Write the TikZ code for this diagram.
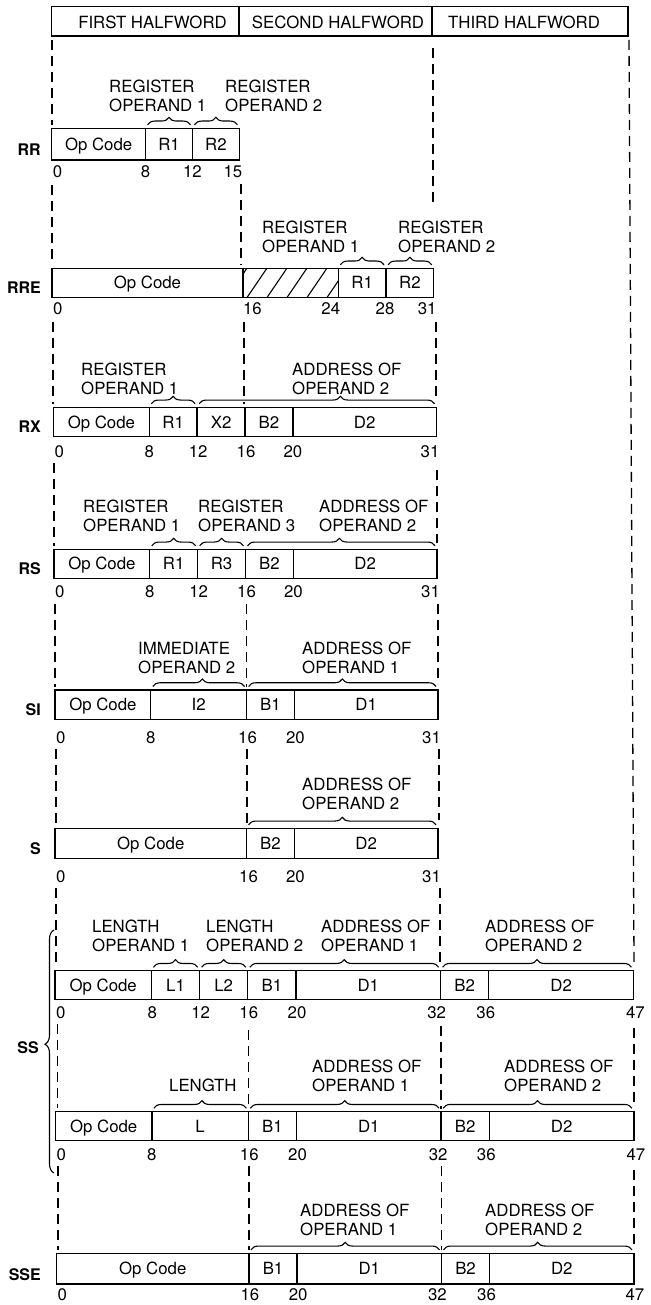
\documentclass[tikz,border=0pt]{standalone}
\usepackage{fontspec}
\setmainfont{TeX Gyre Heros}
\usetikzlibrary{decorations.pathreplacing}
\begin{document}
\begin{tikzpicture}[x=1pt,y=-1pt,
  declare function={bx(\b)=\rX+\rS*\b;},
  box/.style={line width=1.3pt},
  guide/.style={line width=1.3pt, dash pattern=on 10pt off 6pt},
  fld/.style={font=\fontsize{16.8}{19}\selectfont, inner sep=0pt, anchor=base},
  ann/.style={font=\fontsize{16.8}{19}\selectfont, inner sep=0pt, anchor=base west},
  bit/.style={font=\fontsize{16.8}{19}\selectfont, inner sep=0pt},
  rowlbl/.style={font=\bfseries\fontsize{16}{18}\selectfont, inner sep=0pt, anchor=base east},
  brc/.style={decorate, decoration={brace, amplitude=7.5pt}, line width=1.1pt},
  hatch/.style={line width=1.1pt},
]
\newcommand\rowsetup[6]{\def\rT{#1}\def\rB{#2}\def\rL{#3}\def\rA{#4}\def\rX{#5}\def\rS{#6}}
\newcommand\cellt[4]{\node[fld] (#1) at ({(bx(#2)+bx(#3))/2},{(\rT+\rB)/2+6}) {#4};}
\newcommand\vdivide[1]{\draw[box] ({bx(#1)},\rT) -- ({bx(#1)},\rB);}
\newcommand\rframe[2]{\draw[box] ({bx(#1)},\rT) rectangle ({bx(#2)},\rB);}
\newcommand\fbr[3]{\draw[brc, decoration={aspect=#3}] ({bx(#1)+2},{\rT-3.5}) -- ({bx(#2)-2},{\rT-3.5});}
\newcommand\bitn[5]{\node[bit,anchor=#5] (#1) at ({bx(#2)+#3},\rL) {#4};}
\newcommand\anno[4]{\node[ann] (#1a) at (#2,{\rA-19}) {#3};\node[ann] (#1b) at (#2,\rA) {#4};}
\newcommand\rlabel[2]{\node[rowlbl] (#1) at (41,{\rB-4}) {#2};}
\newcommand\guideline[3]{\draw[guide] (#1,#2) -- (#1,#3);}

\fill[white] (0,0) rectangle (650,1305);
\useasboundingbox (0,0) rectangle (650,1305);

% ---------------- header
\draw[box] (51.7,6.7) rectangle (628,36);
\draw[box] (239,6.7) -- (239,36);
\draw[box] (432,6.7) -- (432,36);
\node[fld] (hw1) at (152.5,28.3) {FIRST HALFWORD};
\node[fld] (hw2) at (338,28.3) {SECOND HALFWORD};
\node[fld] (hw3) at (524,28.3) {THIRD HALFWORD};

% ---------------- guides (dashed)
% bit 0
\guideline{52}{40}{125}
\guideline{52}{185}{265}
\guideline{53}{322}{404}
\guideline{54}{463}{546}
\guideline{55}{604}{687}
\guideline{56}{749}{825}
\guideline{56}{888}{967}
\guideline{57.5}{1024}{1108}
\guideline{58}{1166}{1250}
% bit 16
\guideline{241}{184}{265}
\guideline{244}{322}{404}
\guideline{246.5}{604}{687}
\guideline{247}{749}{825}
\guideline{248.5}{1030}{1108}
\guideline{249}{1166}{1250}
% bit 32
\guideline{433}{48}{208}
\guideline{436}{322}{400}
\guideline{437}{470}{543}
\guideline{438}{604}{684}
\guideline{439}{749}{820}
\guideline{440}{888}{962}
\guideline{441}{1026}{1109}
\guideline{441.5}{1166}{1250}
% bit 48
\draw[guide] (629,40) -- (634,962);
\guideline{634}{1028}{1102}
\guideline{634}{1170}{1246}

% ---------------- RR
\rowsetup{128.3}{160}{178}{111.7}{51.7}{11.73}
\rframe{0}{16}\vdivide{8}\vdivide{12}
\cellt{rrop}{0}{8}{Op Code}\cellt{rrr1}{8}{12}{R1}\cellt{rrr2}{12}{16}{R2}
\fbr{8}{12}{0.5}\fbr{12}{16}{0.5}
\anno{rra}{109}{REGISTER}{OPERAND 1}
\anno{rrb}{225}{REGISTER}{OPERAND 2}
\bitn{rrb0}{0}{1}{0}{base west}\bitn{rrb8}{8}{0}{8}{base}
\bitn{rrb12}{12}{0}{12}{base}\bitn{rrb15}{16}{3}{15}{base east}
\rlabel{lrr}{RR}

% ---------------- RRE
\rowsetup{268.3}{297.7}{315}{253}{52}{11.93}
\begin{scope}
\clip ({bx(16)},\rT) rectangle ({bx(24)},\rB);
\foreach \k in {0,...,5}
  \draw[hatch] ({bx(16)-16+20*\k},\rB) -- ({bx(16)+4+20*\k},\rT);
\end{scope}
\rframe{0}{32}\vdivide{16}\vdivide{24}\vdivide{28}
\cellt{rreop}{0}{16}{Op Code}\cellt{rrer1}{24}{28}{R1}\cellt{rrer2}{28}{32}{R2}
\fbr{24}{28}{0.5}\fbr{28}{32}{0.5}
\anno{rrea}{262}{REGISTER}{OPERAND 1}
\anno{rreb}{398}{REGISTER}{OPERAND 2}
\bitn{rreb0}{0}{1}{0}{base west}\bitn{rreb16}{16}{0}{16}{base west}
\bitn{rreb24}{24}{2}{24}{base east}\bitn{rreb28}{28}{-1}{28}{base}
\bitn{rreb31}{32}{3}{31}{base east}
\rlabel{lrre}{RRE}

% ---------------- RX
\rowsetup{407.3}{436.7}{457}{394}{53.5}{11.97}
\rframe{0}{32}\vdivide{8}\vdivide{12}\vdivide{16}\vdivide{20}
\cellt{rxop}{0}{8}{Op Code}\cellt{rxr1}{8}{12}{R1}\cellt{rxx2}{12}{16}{X2}
\cellt{rxb2}{16}{20}{B2}\cellt{rxd2}{20}{32}{D2}
\fbr{8}{12}{0.5}\fbr{12}{32}{0.6}
\anno{rxa}{81}{REGISTER}{OPERAND 1}
\anno{rxb}{292}{ADDRESS OF}{OPERAND 2}
\bitn{rxb0}{0}{1}{0}{base west}\bitn{rxb8}{8}{0}{8}{base}
\bitn{rxb12}{12}{1}{12}{base}\bitn{rxb16}{16}{1}{16}{base}
\bitn{rxb20}{20}{0}{20}{base}\bitn{rxb31}{32}{3}{31}{base east}
\rlabel{lrx}{RX}

% ---------------- RS
\rowsetup{549.3}{578.3}{597}{531}{54}{11.97}
\rframe{0}{32}\vdivide{8}\vdivide{12}\vdivide{16}\vdivide{20}
\cellt{rsop}{0}{8}{Op Code}\cellt{rsr1}{8}{12}{R1}\cellt{rsr3}{12}{16}{R3}
\cellt{rsb2}{16}{20}{B2}\cellt{rsd2}{20}{32}{D2}
\fbr{8}{12}{0.5}\fbr{12}{16}{0.5}\fbr{16}{32}{0.49}
\anno{rsa}{83}{REGISTER}{OPERAND 1}
\anno{rsb}{198}{REGISTER}{OPERAND 3}
\anno{rsc}{319}{ADDRESS OF}{OPERAND 2}
\bitn{rsb0}{0}{1}{0}{base west}\bitn{rsb8}{8}{0}{8}{base}
\bitn{rsb12}{12}{1}{12}{base}\bitn{rsb16}{16}{1}{16}{base}
\bitn{rsb20}{20}{0}{20}{base}\bitn{rsb31}{32}{3}{31}{base east}
\rlabel{lrs}{RS}

% ---------------- SI
\rowsetup{690}{719.3}{743}{673}{55}{11.97}
\rframe{0}{32}\vdivide{8}\vdivide{16}\vdivide{20}
\cellt{siop}{0}{8}{Op Code}\cellt{sii2}{8}{16}{I2}
\cellt{sib1}{16}{20}{B1}\cellt{sid1}{20}{32}{D1}
\fbr{8}{16}{0.54}\fbr{16}{32}{0.5}
\anno{sia}{138}{IMMEDIATE}{OPERAND 2}
\anno{sib}{302}{ADDRESS OF}{OPERAND 1}
\bitn{sib0}{0}{1}{0}{base west}\bitn{sib8}{8}{0}{8}{base}
\bitn{sib16}{16}{1}{16}{base}\bitn{sib20}{20}{1}{20}{base}
\bitn{sib31}{32}{3}{31}{base east}
\rlabel{lsi}{SI}

% ---------------- S
\rowsetup{828.3}{858.3}{882}{809}{55}{11.97}
\rframe{0}{32}\vdivide{16}\vdivide{20}
\cellt{sop}{0}{16}{Op Code}\cellt{sb2}{16}{20}{B2}\cellt{sd2}{20}{32}{D2}
\fbr{16}{32}{0.5}
\anno{sa}{302}{ADDRESS OF}{OPERAND 2}
\bitn{sb0}{0}{1}{0}{base west}\bitn{sb16}{16}{2}{16}{base}
\bitn{sb20}{20}{1}{20}{base}\bitn{sb31}{32}{3}{31}{base east}
\rlabel{ls}{S}

% ---------------- SS (first)
\rowsetup{970.7}{999.3}{1018}{951}{55}{12.05}
\rframe{0}{48}\vdivide{8}\vdivide{12}\vdivide{16}\vdivide{20}\vdivide{32}\vdivide{36}
\cellt{ssop}{0}{8}{Op Code}\cellt{ssl1}{8}{12}{L1}\cellt{ssl2}{12}{16}{L2}
\cellt{ssb1}{16}{20}{B1}\cellt{ssd1}{20}{32}{D1}
\cellt{ssb2}{32}{36}{B2}\cellt{ssd2}{36}{48}{D2}
\fbr{8}{12}{0.5}\fbr{12}{16}{0.5}\fbr{16}{32}{0.5}\fbr{32}{48}{0.5}
\anno{ssa}{92}{LENGTH}{OPERAND 1}
\anno{ssb}{206}{LENGTH}{OPERAND 2}
\anno{ssc}{321}{ADDRESS OF}{OPERAND 1}
\anno{ssd}{485}{ADDRESS OF}{OPERAND 2}
\bitn{ssb0}{0}{1}{0}{base west}\bitn{ssb8}{8}{1}{8}{base}
\bitn{ssb12}{12}{1}{12}{base}\bitn{ssb16}{16}{1}{16}{base}
\bitn{ssb20}{20}{1}{20}{base}\bitn{ssb32}{32}{-4}{32}{base}
\bitn{ssb36}{36}{-3}{36}{base}\bitn{ssb47}{48}{2}{47}{base}

% ---------------- SS (second)
\rowsetup{1111.7}{1140.7}{1160}{1091}{55.5}{12.05}
\rframe{0}{48}\vdivide{8}\vdivide{16}\vdivide{20}\vdivide{32}\vdivide{36}
\cellt{sstop}{0}{8}{Op Code}\cellt{sstl}{8}{16}{L}
\cellt{sstb1}{16}{20}{B1}\cellt{sstd1}{20}{32}{D1}
\cellt{sstb2}{32}{36}{B2}\cellt{sstd2}{36}{48}{D2}
\fbr{8}{16}{0.52}\fbr{16}{32}{0.5}\fbr{32}{48}{0.5}
\node[ann] (sstlen) at (169,\rA) {LENGTH};
\anno{sstc}{312}{ADDRESS OF}{OPERAND 1}
\anno{sstd}{504}{ADDRESS OF}{OPERAND 2}
\bitn{sstb0}{0}{1}{0}{base west}\bitn{sstb8}{8}{0}{8}{base}
\bitn{sstb16}{16}{1}{16}{base}\bitn{sstb20}{20}{1}{20}{base}
\bitn{sstb32}{32}{-3}{32}{base}\bitn{sstb36}{36}{-3}{36}{base}
\bitn{sstb47}{48}{2}{47}{base}

% SS brace and label
\draw[brc, decoration={amplitude=9pt, aspect=0.53}] (54,1173) -- (54,930);
\node[rowlbl] (lss) at (39,1053) {SS};

% ---------------- SSE
\rowsetup{1253.3}{1284}{1300}{1235}{56.5}{12.03}
\rframe{0}{48}\vdivide{16}\vdivide{20}\vdivide{32}\vdivide{36}
\cellt{sseop}{0}{16}{Op Code}\cellt{sseb1}{16}{20}{B1}\cellt{ssed1}{20}{32}{D1}
\cellt{sseb2}{32}{36}{B2}\cellt{ssed2}{36}{48}{D2}
\fbr{16}{32}{0.5}\fbr{32}{48}{0.5}
\anno{ssea}{300}{ADDRESS OF}{OPERAND 1}
\anno{sseb}{485}{ADDRESS OF}{OPERAND 2}
\bitn{sseb0}{0}{1}{0}{base west}\bitn{sseb16}{16}{1}{16}{base}
\bitn{sseb20}{20}{1}{20}{base}\bitn{sseb32}{32}{-4}{32}{base}
\bitn{sseb36}{36}{-3}{36}{base}\bitn{sseb47}{48}{1}{47}{base}
\rlabel{lsse}{SSE}
\end{tikzpicture}
\end{document}
